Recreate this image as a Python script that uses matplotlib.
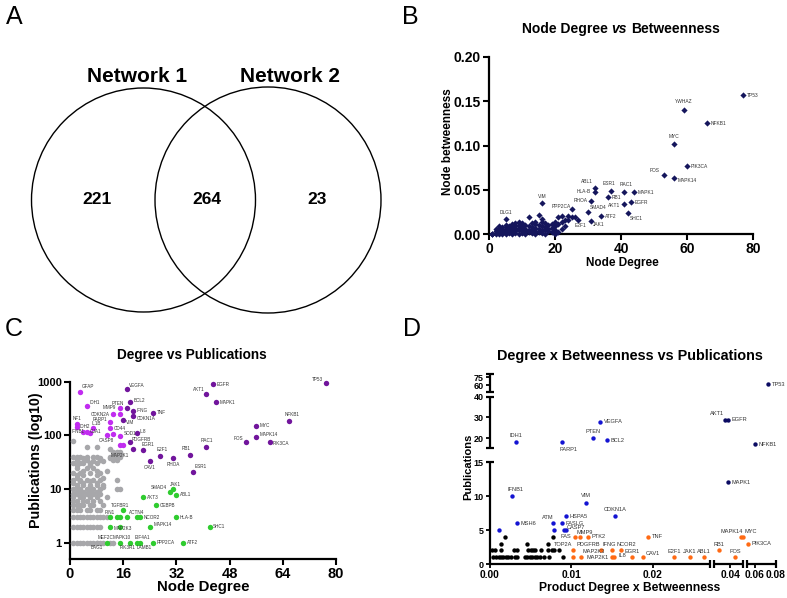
import numpy as np
import matplotlib.pyplot as plt
from matplotlib.patches import Circle
from matplotlib.ticker import NullLocator

plt.rcParams['font.family'] = ['Liberation Sans', 'DejaVu Sans']

# ---------------- data ----------------
# A: Venn
venn_names = ['Network 1', 'Network 2']
venn_counts = [221, 264, 23]   # only 1, shared, only 2

# B: degree vs betweenness (labelled nodes)
b_names = ['TP53', 'YWHAZ', 'NFKB1', 'MYC', 'PIK3CA', 'FOS', 'MAPK14', 'ABL1', 'HLA-B',
           'ESR1', 'RAC1', 'MAPK1', 'RB1', 'RHOA', 'AKT1', 'EGFR', 'SMAD4', 'SHC1',
           'ATF2', 'JAK1', 'E2F1', 'PPP2CA', 'VIM', 'DLG1']
b_deg = [77, 59, 66, 56, 60, 53, 56, 32, 32, 37, 41, 44, 36, 31, 41, 43, 30, 42, 34, 31, 27, 25, 16, 5]
b_btw = [0.157, 0.140, 0.125, 0.102, 0.0765, 0.067, 0.063, 0.052, 0.0477, 0.049, 0.047,
         0.047, 0.042, 0.0375, 0.034, 0.036, 0.025, 0.024, 0.020, 0.015, 0.016, 0.028, 0.035, 0.017]
# B: the rest of the nodes
b_bg_deg = [1, 1, 1, 2, 2, 2, 2, 3, 3, 3, 3, 3, 4, 4, 4, 4, 4, 5, 5, 5, 5, 5,
            6, 6, 6, 6, 7, 7, 7, 7, 7, 8, 8, 8, 8, 8, 9, 9, 9, 9, 9, 10, 10, 10, 10,
            11, 11, 11, 11, 12, 12, 12, 12, 13, 13, 13, 13, 14, 14, 14, 14, 14,
            15, 15, 15, 15, 16, 16, 16, 16, 16, 17, 17, 17, 17, 18, 18, 18, 19, 19, 19,
            20, 20, 20, 20, 21, 21, 21, 22, 22, 22, 23, 23, 24, 24, 25, 26]
b_bg_btw = [0.0, 0.0, 0.0, 0.0, 0.001, 0.003, 0.006, 0.0, 0.002, 0.004, 0.007, 0.009,
            0.0, 0.001, 0.003, 0.006, 0.008, 0.0, 0.002, 0.005, 0.008, 0.010,
            0.001, 0.004, 0.007, 0.009, 0.0, 0.002, 0.005, 0.008, 0.011,
            0.001, 0.003, 0.006, 0.009, 0.012, 0.0, 0.004, 0.007, 0.010, 0.014,
            0.001, 0.005, 0.008, 0.012, 0.0, 0.003, 0.006, 0.010,
            0.002, 0.005, 0.009, 0.019, 0.001, 0.004, 0.008, 0.012,
            0.0, 0.003, 0.007, 0.011, 0.014, 0.002, 0.006, 0.010, 0.022,
            0.001, 0.005, 0.009, 0.013, 0.017, 0.0, 0.004, 0.008, 0.012,
            0.003, 0.006, 0.010, 0.002, 0.007, 0.011, 0.0, 0.004, 0.009, 0.013,
            0.002, 0.011, 0.019, 0.006, 0.014, 0.020, 0.009, 0.016, 0.016, 0.020, 0.019, 0.019]

# C: degree vs publications
c_dark_names = ['TP53', 'EGFR', 'AKT1', 'MAPK1', 'NFKB1', 'MYC', 'MAPK14', 'FOS', 'PIK3CA',
                'RAC1', 'RB1', 'ESR1', 'RHOA', 'E2F1', 'CAV1', 'EGR1', 'MAP2K1', 'PDGFRB',
                'IL8', 'TNF', 'CDKN1A', 'IFNG', 'BCL2', 'VEGFA', 'PTEN', 'VIM']
c_dark_deg = [77, 43, 41, 44, 66, 56, 56, 53, 60, 41, 36, 37, 31, 27, 24, 22, 19, 18,
              20, 25, 19, 19, 18, 17, 17, 16]
c_dark_pub = [930, 890, 600, 410, 185, 150, 95, 74, 77, 61, 44, 21, 38, 42, 33, 53, 56, 76,
              112, 264, 230, 288, 413, 720, 327, 193]
c_light_names = ['GFAP', 'IDH1', 'MMP9', 'CDKN2A', '', 'PARP1', 'NF1', 'IDH2', 'IL1B', 'CD44',
                 'IFNB1', 'GJA1', '', 'CASP8', '', 'SOD1', '', '']
c_light_deg = [3, 5, 15, 13, 15, 12, 2, 2, 7, 12, 4, 5, 6, 11, 13, 15, 15, 16]
c_light_pub = [630, 355, 327, 247, 247, 177, 163, 145, 135, 137, 117, 117, 110, 101, 106, 97, 66, 66]
c_green_names = ['SMAD4', 'JAK1', 'ABL1', 'AKT3', 'CEBPB', 'TGFBR1', 'PIN1', '', '', '', 'ACTN4',
                 'NCOR2', 'HLA-B', 'MAP2K3', '', 'MAPK14', 'SHC1', 'MEF2C', 'MAPK10', 'PIK3R1',
                 'EIF4A1', 'LAMB1', 'PPP2CA', 'ATF2']
c_green_deg = [30, 31, 32, 22, 26, 16, 12, 14, 15, 17, 20, 21, 32, 12, 15, 24, 42, 11, 15, 18,
               20, 21, 25, 34]
c_green_pub = [8.9, 10, 7.8, 7.0, 5.0, 4.0, 3, 3, 3, 3, 3, 3, 3, 2, 2, 2, 2, 1, 1, 1, 1, 1, 1, 1]
c_gray_deg = ([1, 2, 3, 4, 5, 6, 7, 8, 9, 10, 12, 13] + [1, 2, 3, 4, 5, 6, 7, 8, 9]
              + [1, 2, 3, 4, 5, 6, 7, 8, 9, 10, 11] + [1, 2, 3, 5, 6, 8, 9] + [1, 2, 3, 4, 6, 7, 10]
              + [1, 2, 4, 5, 7, 9] + [1, 3, 4, 6, 8, 11] + [1, 2, 3, 5, 7, 9] + [2, 4, 6, 8]
              + [1, 3, 5, 7, 9, 14, 15] + [2, 6, 10] + [2, 4, 6, 8, 10] + [1, 4, 8] + [3, 6]
              + [1, 3, 5, 7, 9, 14] + [2, 10] + [2, 4, 8] + [1, 3, 6, 9] + [4, 8, 11] + [2, 5, 7]
              + [2, 6] + [1, 3, 4, 6, 8] + [7, 10] + [2, 5, 9, 13, 14] + [4, 9, 12]
              + [1, 2, 3, 5, 7, 8, 12, 13, 14, 15] + [14, 15] + [13, 14, 15] + [12] + [5, 8] + [1])
c_gray_pub = ([1] * 12 + [2] * 9 + [3] * 11 + [4] * 7 + [5] * 7 + [6] * 6 + [7] * 6 + [8] * 6
              + [9] * 4 + [10] * 7 + [11] * 3 + [12] * 5 + [13] * 3 + [14] * 2 + [15] * 6
              + [16] * 2 + [18] * 3 + [20] * 4 + [22] * 3 + [25] * 3 + [28] * 2 + [30] * 5
              + [33] * 2 + [35] * 5 + [38] * 3 + [40] * 10 + [45] * 2 + [50] * 3 + [55]
              + [60] * 2 + [80])
c_gray_names = ['BAG1']
c_gray_ndeg = [8]
c_gray_npub = [1]

# D: degree x betweenness vs publications
d_navy_names = ['TP53', 'AKT1', 'EGFR', 'NFKB1', 'MAPK1']
d_navy_x = [0.0727, 0.0394, 0.0397, 0.060, 0.0397]
d_navy_y = [62, 29, 29, 17, 12]
d_blue_names = ['IDH1', 'PARP1', 'PTEN', 'BCL2', 'VEGFA', 'IFNB1', 'MSH6', '', 'ATM', '',
                'HSPA5', 'FASLG', 'CASP7', '', 'VIM', 'CDKN1A']
d_blue_x = [0.0032, 0.0088, 0.0127, 0.0144, 0.01355, 0.00265, 0.0033, 0.00106, 0.0077, 0.0078,
            0.0093, 0.0088, 0.0093, 0.0091, 0.0118, 0.0154]
d_blue_y = [18, 18, 20, 19, 28, 10, 6, 5, 6, 5, 7, 6, 5, 5, 9, 7]
d_orange_names = ['FAS', 'MMP9', 'PTK2', 'TNF', 'MAPK14', 'MYC', 'PIK3CA', 'TOP2A', 'PDGFRB',
                  'IFNG', 'NCOR2', 'RB1', '', 'MAP2K3', 'MAP2K1', 'IL8', 'EGR1', 'CAV1', 'E2F1',
                  'JAK1', 'ABL1', 'FOS']
d_orange_x = [0.0104, 0.0110, 0.0120, 0.0194, 0.0414, 0.0416, 0.0530, 0.0102, 0.0136, 0.0150,
              0.0161, 0.0386, 0.0102, 0.0112, 0.0150, 0.0152, 0.0174, 0.0188, 0.0226, 0.0245,
              0.0263, 0.0406]
d_orange_y = [4, 4, 4, 4, 4, 4, 3, 2, 2, 2, 2, 2, 1, 1, 1, 1, 1, 1, 1, 1, 1, 1]
d_black_x = [0.0004, 0.0007, 0.0011, 0.0014, 0.0016, 0.0020, 0.0022, 0.0026, 0.0031, 0.0033,
             0.0043, 0.0046, 0.0049, 0.0052, 0.0055, 0.0058, 0.0061, 0.0066, 0.0073, 0.0090,
             0.0002, 0.0006, 0.0013, 0.0030, 0.0033, 0.0047, 0.0050, 0.0053, 0.0055, 0.0063,
             0.0071, 0.0076, 0.0079, 0.0085, 0.0013, 0.0046, 0.0071, 0.0018, 0.0077]
d_black_y = [1] * 20 + [2] * 14 + [3] * 3 + [4] * 2

# label offsets (points): name -> (dx, dy, ha); default is right of the point
B_OFF = {'YWHAZ': (0, 6, 'center'), 'MYC': (0, 5.5, 'center'), 'FOS': (-3, 3, 'right'),
         'MAPK14': (2.5, -1.5, 'left'), 'ABL1': (-1, 4.5, 'right'), 'HLA-B': (-3, 0, 'right'),
         'ESR1': (-1.5, 5, 'center'), 'RAC1': (1.5, 5.5, 'center'), 'RB1': (2.5, -0.5, 'left'),
         'RHOA': (-2.5, 0.5, 'right'), 'AKT1': (-3, -1, 'right'), 'SMAD4': (1, 3.5, 'left'),
         'SHC1': (1.5, -4, 'left'), 'JAK1': (1, -3, 'left'), 'E2F1': (2, -4, 'center'),
         'PPP2CA': (-0.5, 2, 'right'), 'VIM': (0, 4.5, 'center'), 'DLG1': (0, 4.5, 'center')}
C_OFF = {'TP53': (-2, 3, 'right'), 'AKT1': (-1.5, 3, 'right'), 'NFKB1': (2, 4.5, 'center'),
         'MAPK14': (2.5, 1.5, 'left'), 'FOS': (-2.5, 3, 'right'), 'PIK3CA': (2.5, -1.5, 'left'),
         'RAC1': (0, 4.5, 'center'), 'RB1': (-2.5, 4.5, 'center'), 'ESR1': (1, 3.5, 'left'),
         'RHOA': (0, -4.5, 'center'), 'E2F1': (1.5, 4.5, 'center'), 'CAV1': (0, -4.5, 'center'),
         'EGR1': (3.5, 4, 'center'), 'MAP2K1': (-9.5, -5, 'center'), 'PDGFRB': (1, 2, 'left'),
         'IL8': (2.5, 1, 'left'), 'VIM': (2, -2, 'left'), 'CDKN1A': (2.5, -1.5, 'left'),
         'VEGFA': (2, 3, 'left'), 'BCL2': (2.5, 1.5, 'left'), 'PTEN': (-2, 3, 'right'),
         'MMP9': (-2.5, 0, 'right'), 'CDKN2A': (-2.5, 0, 'right'), 'PARP1': (-2, 2, 'right'),
         'GFAP': (1, 4, 'left'), 'IDH1': (2.5, 2.5, 'left'), 'NF1': (0, 4, 'center'),
         'IDH2': (2, 0, 'left'), 'IL1B': (2, 3.5, 'center'), 'IFNB1': (-4, 0, 'center'),
         'GJA1': (2, 0, 'left'), 'CASP8': (0, -4, 'center'), 'SOD1': (2.5, 2, 'left'),
         'SMAD4': (-2, 3, 'right'), 'JAK1': (2, 3.5, 'center'), 'TGFBR1': (-2, 3.5, 'center'),
         'PIN1': (0, 3.5, 'center'), 'ACTN4': (0, 3.5, 'center'), 'MEF2C': (-1, 3.5, 'center'),
         'MAPK10': (1, 3.5, 'center'), 'EIF4A1': (4, 3.5, 'center'), 'PIK3R1': (-2, -3.5, 'center'),
         'LAMB1': (3.5, -3.5, 'center'), 'BAG1': (0, -3.5, 'center'), 'MAP2K3': (2.5, -1, 'left')}
D_OFF = {'AKT1': (-0.5, 4, 'right'), 'PTEN': (0, 5, 'center'), 'IDH1': (0, 5, 'center'),
         'PARP1': (5, -5, 'center'), 'IFNB1': (3, 5, 'center'), 'VIM': (0, 5, 'center'),
         'CDKN1A': (0, 5, 'center'), 'ATM': (-3.5, 4, 'center'), 'CASP7': (1, 2, 'left'),
         'FAS': (-2.5, 0, 'right'), 'MMP9': (4, 3, 'center'), 'TOP2A': (-0.5, 4, 'right'),
         'PDGFRB': (-0.5, 4, 'right'), 'IFNG': (-2, 4, 'center'), 'NCOR2': (3.5, 4, 'center'),
         'MAP2K3': (1, 4, 'left'), 'MAP2K1': (-2.5, -0.5, 'right'), 'IL8': (3, 1.5, 'left'),
         'EGR1': (0, 4, 'center'), 'CAV1': (2, 2.5, 'left'), 'E2F1': (0, 4, 'center'),
         'JAK1': (0, 4, 'center'), 'ABL1': (0, 4, 'center'), 'RB1': (0, 4, 'center'),
         'FOS': (0, 4, 'center'), 'MAPK14': (1, 4, 'right'), 'MYC': (1, 4, 'left')}

NAVY_B = '#15165c'
GRAY = '#a7a7aa'
DARK_P = '#71159c'
LIGHT_P = '#c12cf0'
GREEN = '#2fcc2f'
BLUE = '#1414d2'
NAVY_D = '#0b0b62'
ORANGE = '#ff6a14'
LBL = '#333333'

W, H = 787, 598
fig = plt.figure(figsize=(W / 100, H / 100), dpi=100)


def px_axes(left, top, right, bottom):
    return fig.add_axes([left / W, 1 - bottom / H, (right - left) / W, (bottom - top) / H])


def ftext(x, y, s, **kw):
    return fig.text(x / W, 1 - y / H, s, **kw)


def label_points(ax, names, xs, ys, offsets, size):
    for n, x, y in zip(names, xs, ys):
        if not n:
            continue
        dx, dy, ha = offsets.get(n, (2.5, 0, 'left'))
        ax.annotate(n, (x, y), xytext=(dx, dy), textcoords='offset points', ha=ha,
                    va='center', fontsize=size, color=LBL, annotation_clip=False)


def prism_axes(ax):
    for s in ['top', 'right']:
        ax.spines[s].set_visible(False)
    for s in ['left', 'bottom']:
        ax.spines[s].set_linewidth(1.6)
    ax.tick_params(direction='out', length=4, width=1.5, pad=2)


# panel letters
for letter, (x, y) in zip('ABCD', [(14, 17), (410, 17), (14, 329), (412, 329)]):
    ftext(x, y, letter, fontsize=18, ha='center', va='center')

# ---------------- A: Venn ----------------
axa = px_axes(0, 40, 400, 330)
axa.set_xlim(0, 400)
axa.set_ylim(330, 40)
axa.axis('off')
axa.add_patch(Circle((143.5, 200), 112, fill=False, lw=1, ec='black'))
axa.add_patch(Circle((268, 200), 113, fill=False, lw=1, ec='black'))
axa.text(137, 77, venn_names[0], fontsize=15, fontweight='bold', ha='center', va='center')
axa.text(290, 77, venn_names[1], fontsize=15, fontweight='bold', ha='center', va='center')
for xx, cnt in zip([97, 207, 317], venn_counts):
    axa.text(xx, 200, str(cnt), fontsize=12.5, fontweight='bold', ha='center', va='center')

# ---------------- B ----------------
axb = px_axes(489, 57, 753, 234)
axb.scatter(b_bg_deg, b_bg_btw, marker='D', s=10, color=NAVY_B, lw=0, clip_on=False, zorder=3)
axb.scatter(b_deg, b_btw, marker='D', s=10, color=NAVY_B, lw=0, clip_on=False, zorder=3)
label_points(axb, b_names, b_deg, b_btw, B_OFF, 3.5)
axb.set_xlim(0, 80)
axb.set_ylim(0, 0.2)
prism_axes(axb)
axb.set_xticks([0, 20, 40, 60, 80], ['0', '20', '40', '60', '80'], fontsize=10, fontweight='bold')
axb.set_yticks([0, 0.05, 0.10, 0.15, 0.20], ['0.00', '0.05', '0.10', '0.15', '0.20'],
               fontsize=10, fontweight='bold')

r = fig.canvas.get_renderer()
parts = [('Node Degree', 'normal'), ('vs', 'italic'), ('Betweenness', 'normal')]
tx = [ftext(0, 29, s, style=st, fontsize=10, fontweight='bold', va='center') for s, st in parts]
gap = 0.278 * 10 * 100 / 72
wid = [t.get_window_extent(r).width for t in tx]
x0 = 621 - (sum(wid) + 2 * gap) / 2
for t, w in zip(tx, wid):
    t.set_x(x0 / W)
    x0 += w + gap
ftext(622, 263, 'Node Degree', fontsize=8.5, fontweight='bold', ha='center', va='center')
ftext(448, 142, 'Node betweenness', fontsize=8.5, fontweight='bold', ha='center', va='center',
      rotation=90)

# ---------------- C ----------------
axc = px_axes(70, 381.7, 336, 559)
axc.set_yscale('log')
axc.scatter(c_gray_deg, c_gray_pub, s=16, color=GRAY, lw=0, clip_on=False, zorder=3)
axc.scatter(c_gray_ndeg, c_gray_npub, s=16, color=GRAY, lw=0, clip_on=False, zorder=3)
axc.scatter(c_green_deg, c_green_pub, s=15, color=GREEN, lw=0, clip_on=False, zorder=3)
axc.scatter(c_light_deg, c_light_pub, s=15, color=LIGHT_P, lw=0, clip_on=False, zorder=3)
axc.scatter(c_dark_deg, c_dark_pub, s=15, color=DARK_P, lw=0, clip_on=False, zorder=3)
label_points(axc, c_dark_names, c_dark_deg, c_dark_pub, C_OFF, 3.3)
label_points(axc, c_light_names, c_light_deg, c_light_pub, C_OFF, 3.3)
label_points(axc, c_green_names, c_green_deg, c_green_pub, C_OFF, 3.3)
label_points(axc, c_gray_names, c_gray_ndeg, c_gray_npub, C_OFF, 3.3)
axc.set_xlim(0, 80)
axc.set_ylim(0.5, 1000)
prism_axes(axc)
axc.yaxis.set_minor_locator(NullLocator())
axc.set_xticks([0, 16, 32, 48, 64, 80], ['0', '16', '32', '48', '64', '80'],
               fontsize=10.5, fontweight='bold')
axc.set_yticks([1, 10, 100, 1000], ['1', '10', '100', '1000'], fontsize=8, fontweight='bold')
ftext(192, 355, 'Degree vs Publications', fontsize=9.8, fontweight='bold', ha='center', va='center')
ftext(203, 587, 'Node Degree', fontsize=10.8, fontweight='bold', ha='center', va='center')
ftext(36, 460, 'Publications (log10)', fontsize=10.3, fontweight='bold', ha='center',
      va='center', rotation=90)

# ---------------- D (broken axes) ----------------
D_XSRC = [0, 0.027, 0.038, 0.0416, 0.0524, 0.08]
D_XDST = [0, 220, 224, 253, 257, 286]
D_YSRC = [0, 15, 15.3, 40, 47, 81]
D_YDST = [0, 102, 116, 167.3, 172.3, 189.7]


def piecewise(src, dst):
    src = np.asarray(src, float)
    dst = np.asarray(dst, float)
    s0 = (dst[1] - dst[0]) / (src[1] - src[0])
    s1 = (dst[-1] - dst[-2]) / (src[-1] - src[-2])

    def f(v):
        v = np.asarray(v, float)
        out = np.interp(v, src, dst)
        out = np.where(v < src[0], dst[0] + (v - src[0]) * s0, out)
        return np.where(v > src[-1], dst[-1] + (v - src[-1]) * s1, out)
    return f


axd = px_axes(490, 374.3, 776, 564)
axd.set_xscale('function', functions=(piecewise(D_XSRC, D_XDST), piecewise(D_XDST, D_XSRC)))
axd.set_yscale('function', functions=(piecewise(D_YSRC, D_YDST), piecewise(D_YDST, D_YSRC)))
axd.scatter(d_black_x, d_black_y, s=10, color='black', lw=0, clip_on=False, zorder=3)
axd.scatter(d_orange_x, d_orange_y, s=10, color=ORANGE, lw=0, clip_on=False, zorder=3)
axd.scatter(d_blue_x, d_blue_y, s=10, color=BLUE, lw=0, clip_on=False, zorder=3)
axd.scatter(d_navy_x, d_navy_y, s=10, color=NAVY_D, lw=0, clip_on=False, zorder=3)
label_points(axd, d_navy_names, d_navy_x, d_navy_y, D_OFF, 4.1)
label_points(axd, d_blue_names, d_blue_x, d_blue_y, D_OFF, 4.1)
label_points(axd, d_orange_names, d_orange_x, d_orange_y, D_OFF, 4.1)
axd.set_xlim(0, 0.08)
axd.set_ylim(0, 81)
for s in axd.spines.values():
    s.set_visible(False)
axd.tick_params(direction='out', length=3, width=1.3, pad=1.5)
axd.xaxis.set_minor_locator(NullLocator())
axd.yaxis.set_minor_locator(NullLocator())
axd.set_xticks([0, 0.01, 0.02, 0.04, 0.06, 0.08],
               ['0.00', '0.01', '0.02', '0.04', '0.06', '0.08'], fontsize=7.4, fontweight='bold')
axd.set_yticks([0, 5, 10, 15, 20, 30, 40, 60, 75],
               ['0', '5', '10', '15', '20', '30', '40', '60', '75'], fontsize=6.5, fontweight='bold')
xt = axd.get_xaxis_transform()
yt = axd.get_yaxis_transform()
for i in range(0, len(D_XSRC), 2):
    a, b = D_XSRC[i], D_XSRC[i + 1]
    axd.plot([a, b], [0, 0], transform=xt, color='black', lw=1.6, clip_on=False,
             solid_capstyle='butt')
    ends = [b] if i == 0 else [a, b]
    axd.plot(ends, [0] * len(ends), transform=xt, ls='none', marker='|', ms=6, mew=1.6,
             color='black', clip_on=False)
for i in range(0, len(D_YSRC), 2):
    a, b = D_YSRC[i], D_YSRC[i + 1]
    axd.plot([0, 0], [a, b], transform=yt, color='black', lw=1.6, clip_on=False,
             solid_capstyle='butt')
    ends = [b] if i == 0 else [a, b]
    axd.plot([0] * len(ends), ends, transform=yt, ls='none', marker='_', ms=6, mew=1.6,
             color='black', clip_on=False)
ftext(630, 356, 'Degree x Betweenness vs Publications', fontsize=10.4, fontweight='bold',
      ha='center', va='center')
ftext(630, 588, 'Product Degree x Betweenness', fontsize=8.7, fontweight='bold', ha='center',
      va='center')
ftext(468, 467, 'Publications', fontsize=8, fontweight='bold', ha='center', va='center',
      rotation=90)

fig.savefig('out.png', dpi=100)
